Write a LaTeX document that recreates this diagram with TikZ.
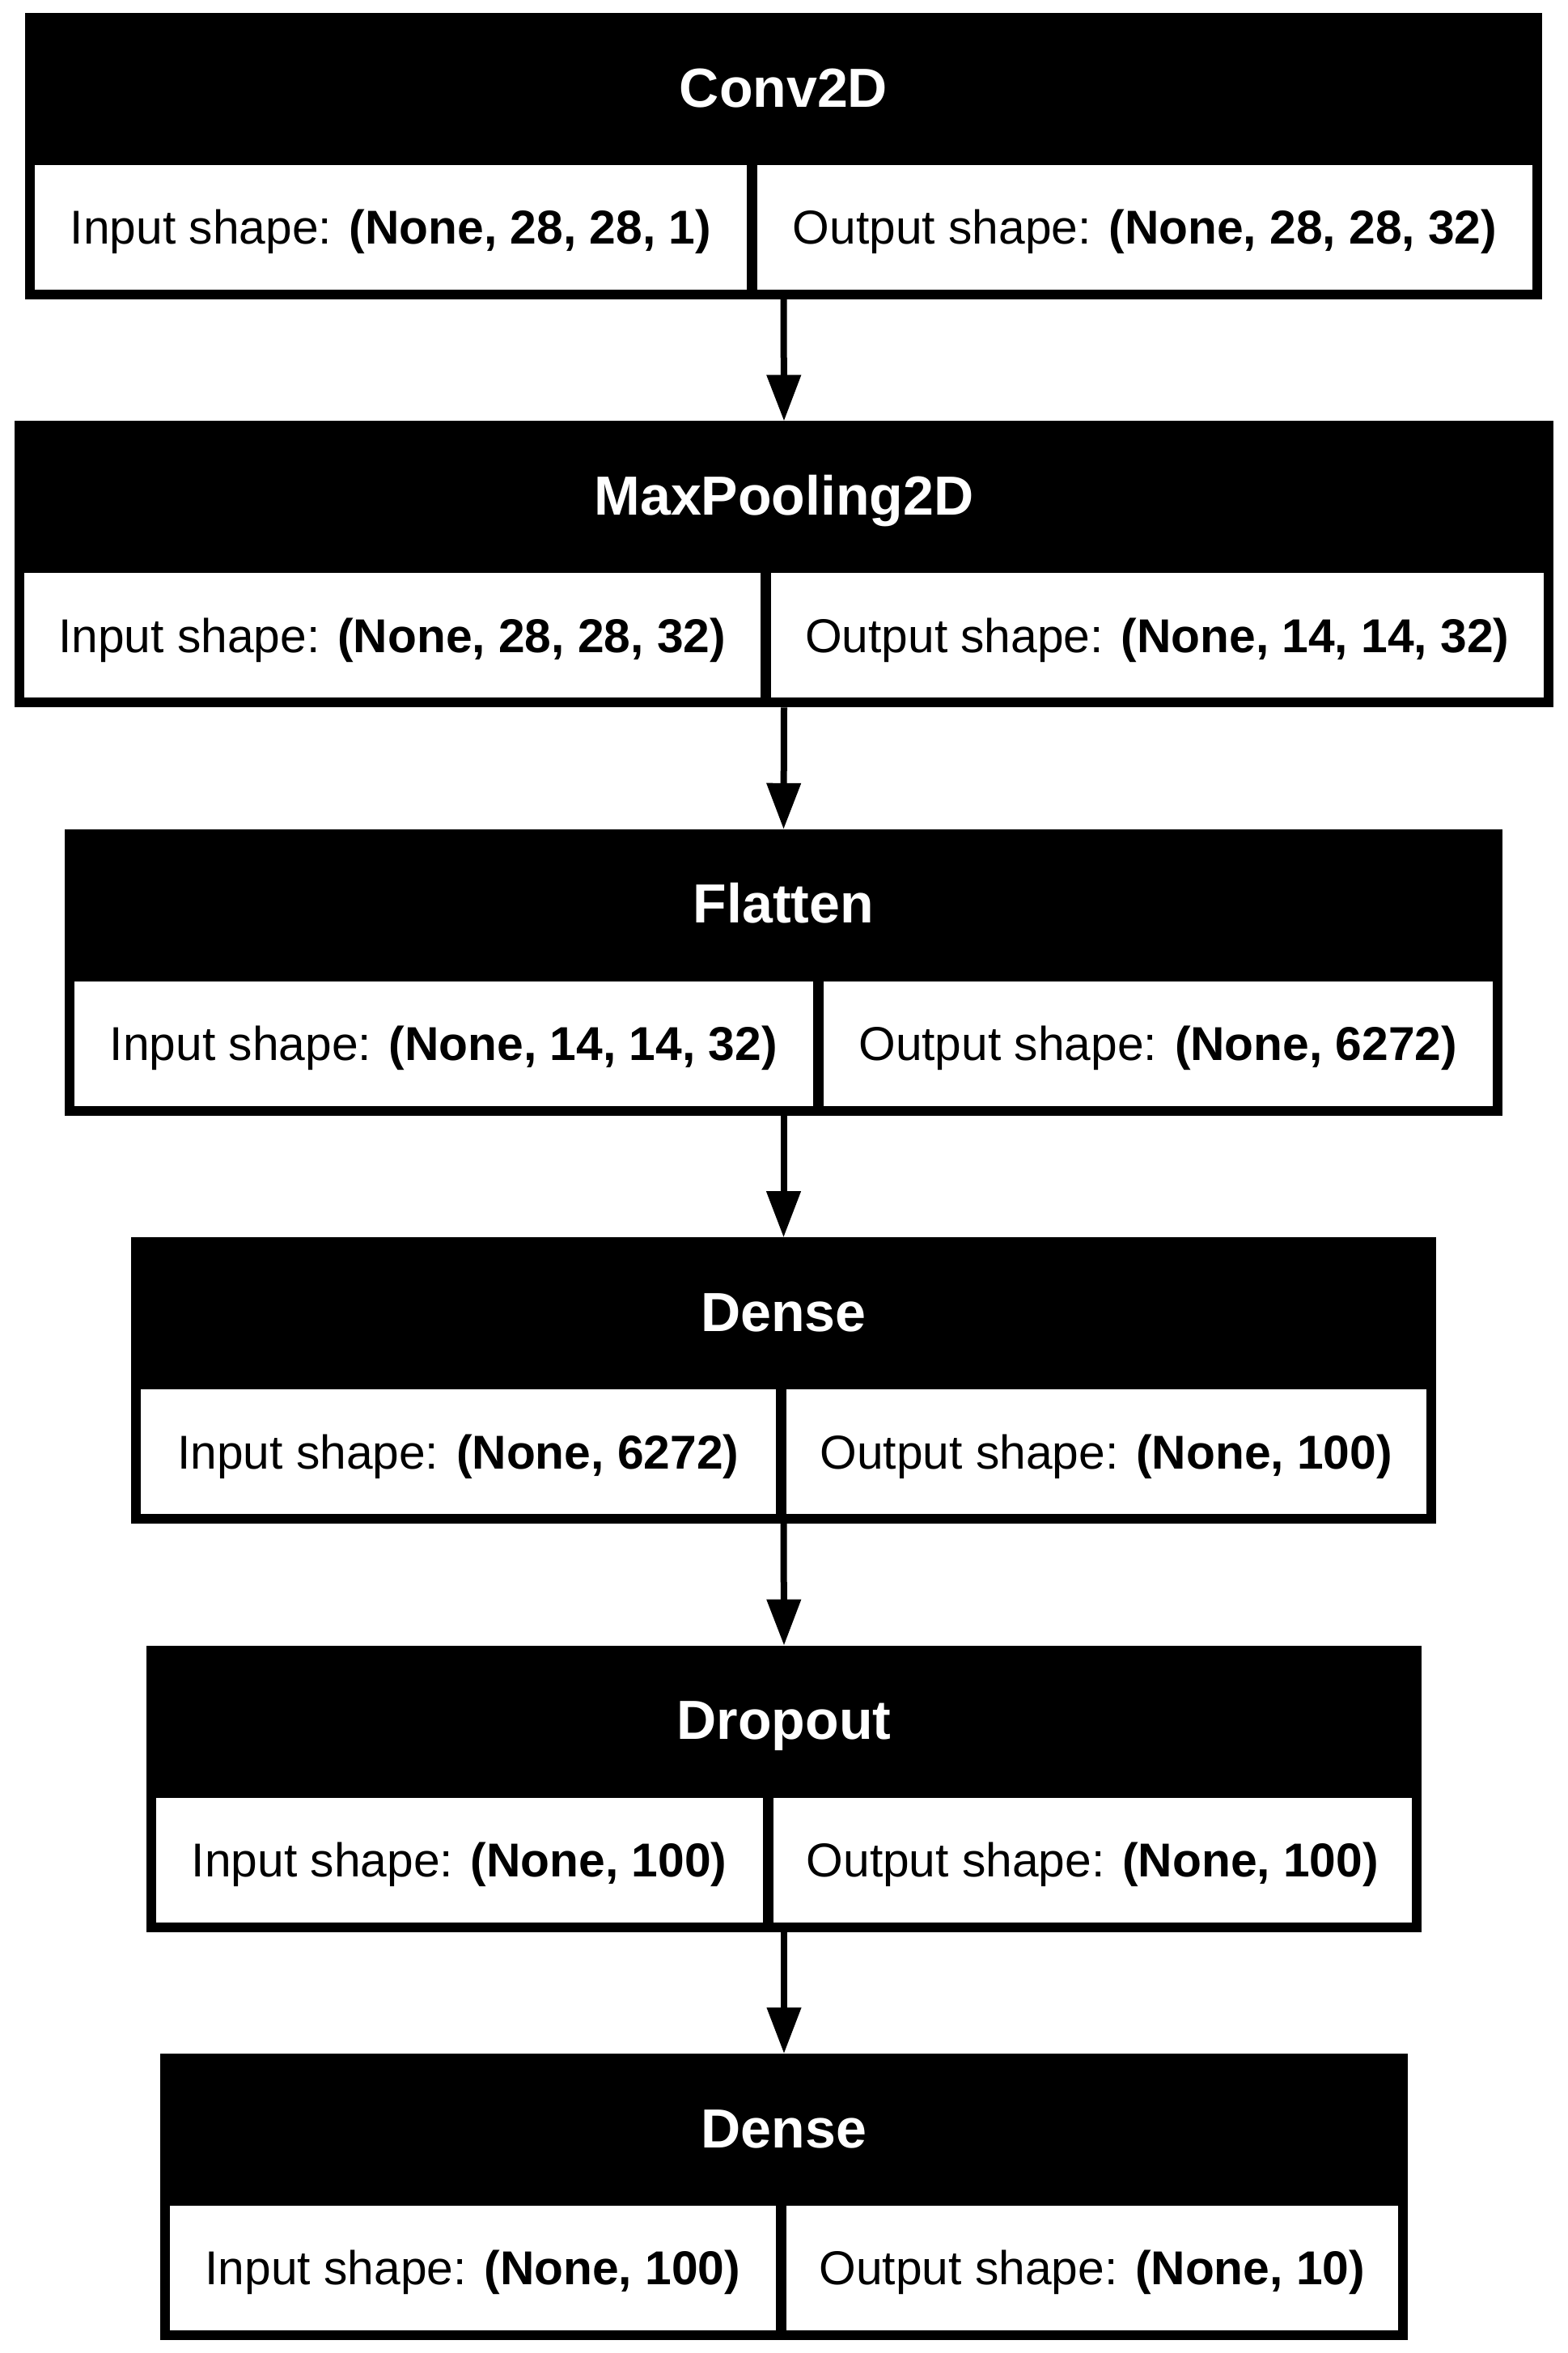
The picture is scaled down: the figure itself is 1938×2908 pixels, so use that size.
\documentclass[tikz,border=0pt]{standalone}
\usepackage{fontspec}
\setmainfont{Liberation Sans}
\usetikzlibrary{arrows.meta}
\def\px{0.235pt}
\begin{document}
\begin{tikzpicture}[x=0.235pt,y=-0.235pt,line join=round,
		>={Triangle[length=13.4pt,width=9.6pt]},
		layer/.style={fill=black,inner sep=0pt,outer sep=0pt,minimum height=354*\px},
		title/.style={text=white,inner sep=0pt,text height=10.34pt,text depth=0pt,font=\fontsize{16pt}{18pt}\selectfont\bfseries},
		cell/.style={fill=white,inner sep=0pt,outer sep=0pt,minimum height=154*\px,text height=9.8pt,text depth=0pt,font=\fontsize{13.8pt}{16pt}\selectfont}]
	\useasboundingbox (0,0) rectangle (1938,2908);
	\def\pitch{504.4}
	% one layer: outer block, name, input and output cells
	\foreach \k/\L/\D/\R/\lyr/\ins/\outs in {
		1/31/929.5/1906/Conv2D/{(None, 28, 28, 1)}/{(None, 28, 28, 32)},
		2/18/946/1920/MaxPooling2D/{(None, 28, 28, 32)}/{(None, 14, 14, 32)},
		3/80/1011/1857/Flatten/{(None, 14, 14, 32)}/{(None, 6272)},
		4/162/965/1775/Dense/{(None, 6272)}/{(None, 100)},
		5/181/949/1757/Dropout/{(None, 100)}/{(None, 100)},
		6/198/965/1740/Dense/{(None, 100)}/{(None, 10)}}{
		\pgfmathsetmacro\T{16+(\k-1)*\pitch}
		\pgfmathsetmacro\C{(\L+\R)/2}
		\node[layer,minimum width={(\R-\L)*\px}] (box\k) at (\C,\T+177) {};
		\node[title] (title\k) at (\C,\T+94) {\lyr};
		\node[cell,minimum width={(\D-\L-18.5)*\px}] (in\k) at ({(\L+\D+5.5)/2},\T+265) {Input shape: \textbf{\ins}};
		\node[cell,minimum width={(\R-\D-18.5)*\px}] (out\k) at ({(\D+\R-5.5)/2},\T+265) {Output shape: \textbf{\outs}};
	}
	\foreach \k in {1,...,5}{
		\pgfmathtruncatemacro\n{\k+1}
		\draw[->,line width=1.88pt] (box\k.south) -- (box\n.north);
	}
\end{tikzpicture}
\end{document}
